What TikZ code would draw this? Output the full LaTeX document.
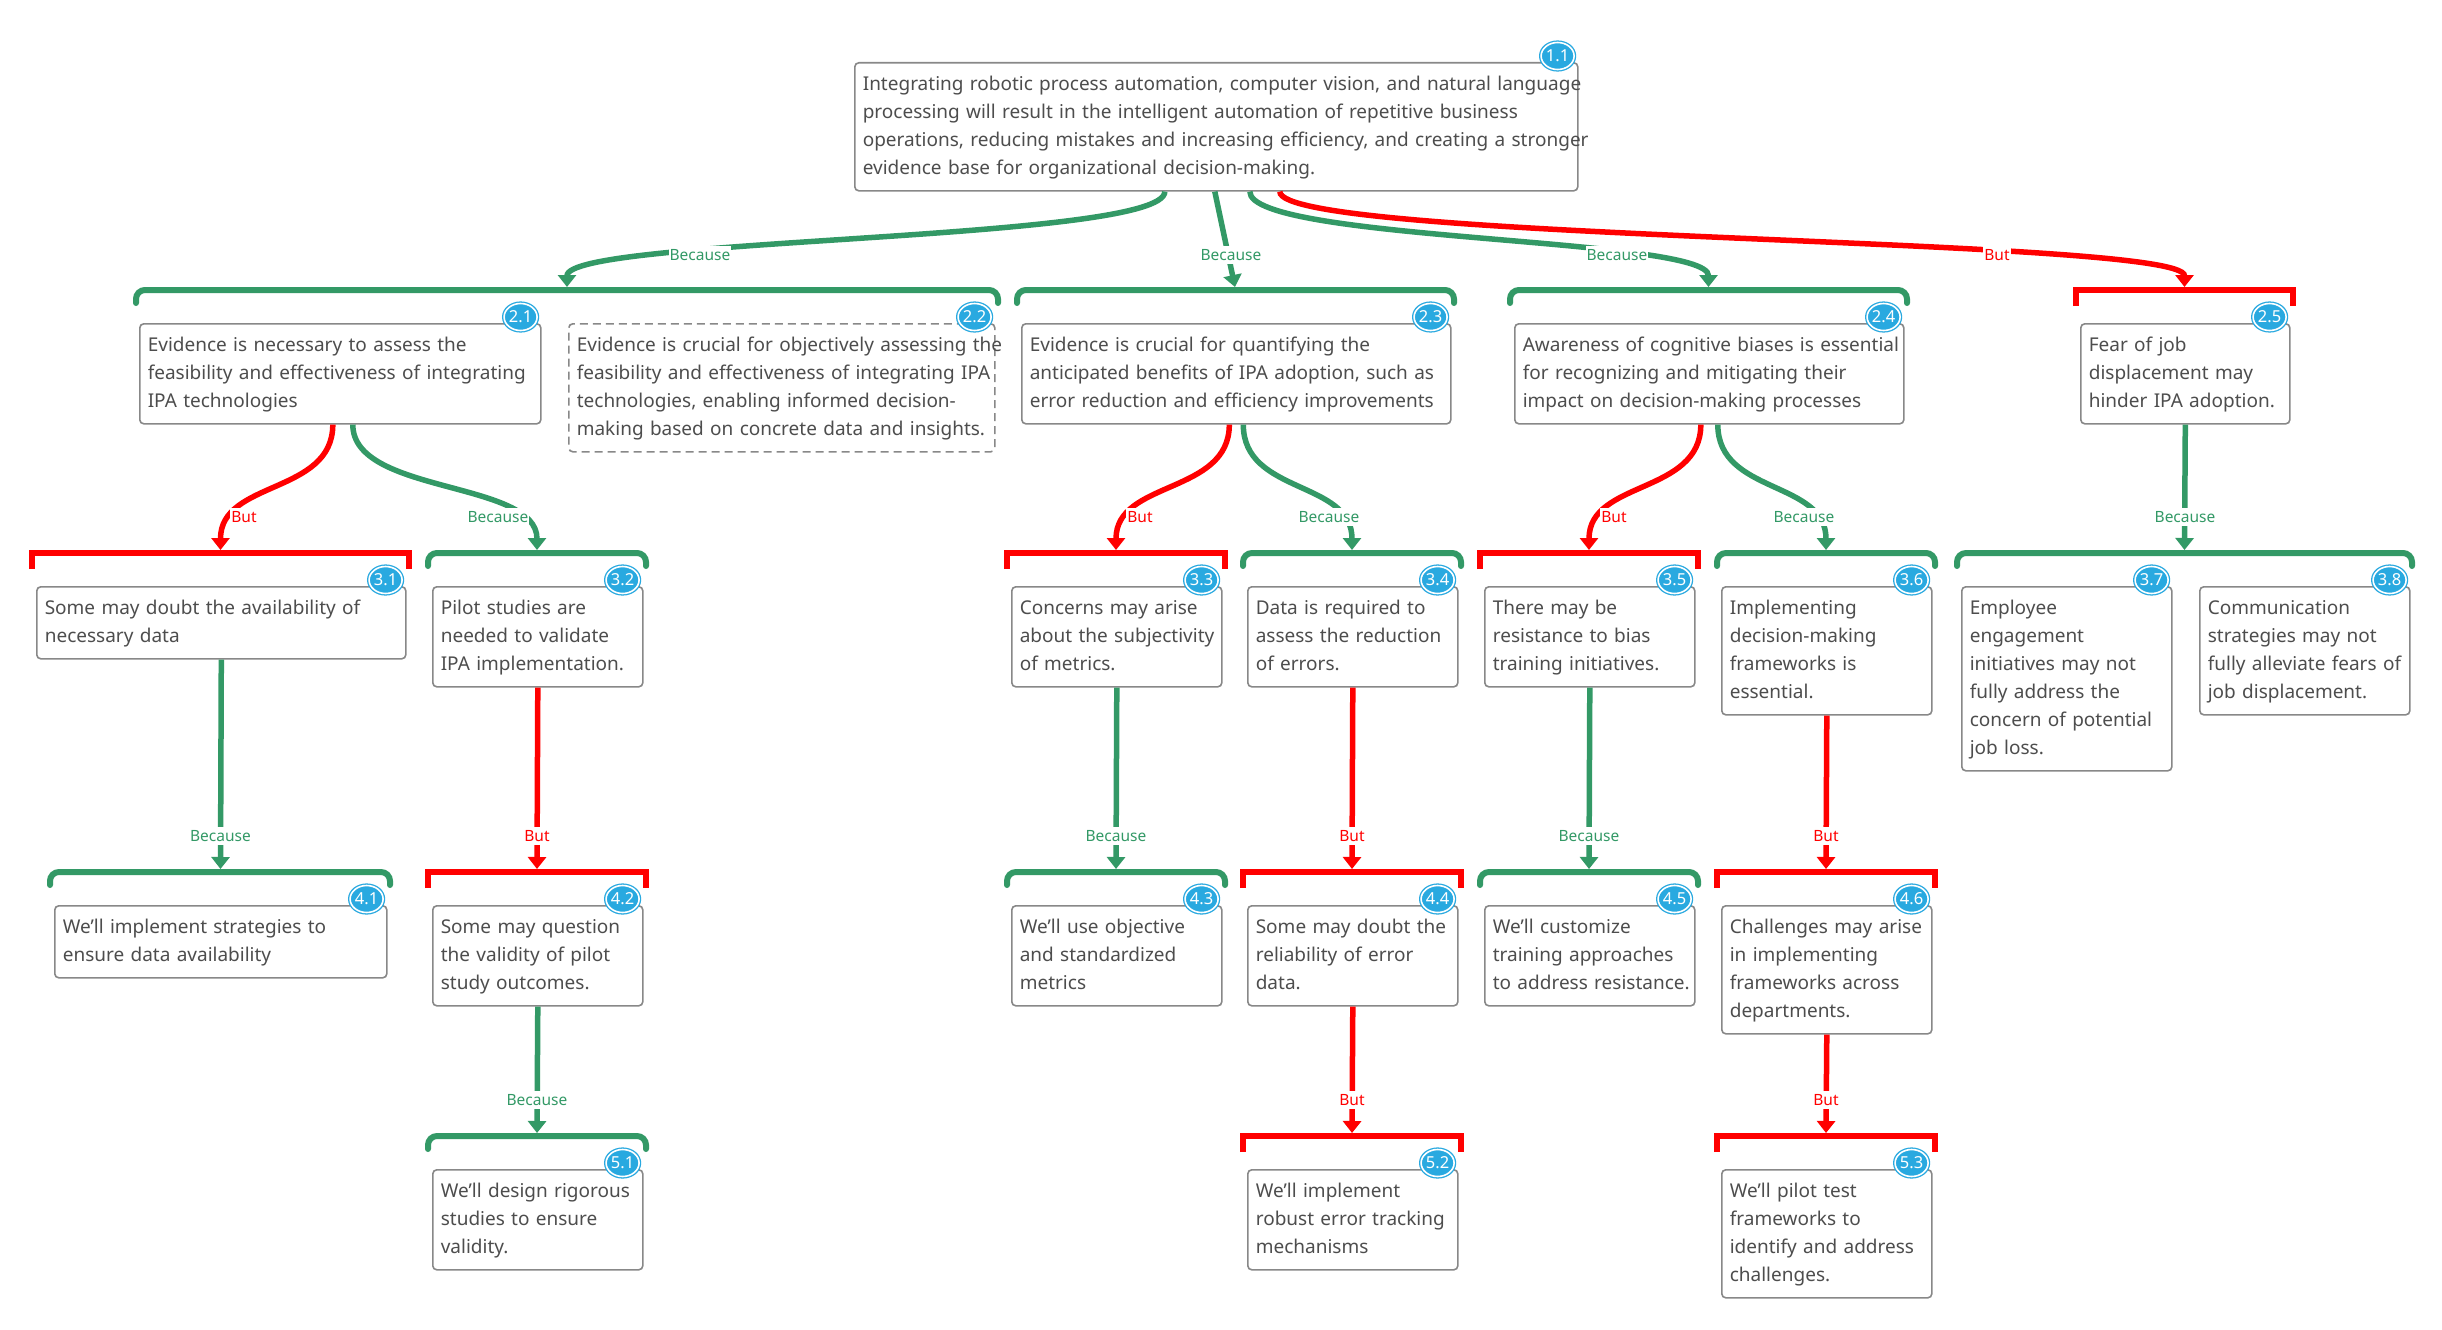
\documentclass[tikz,border=0pt]{standalone}
\usepackage{fontspec}
\setmainfont{Noto Sans}
\usetikzlibrary{arrows.meta,shapes.geometric,calc}
\definecolor{cgreen}{HTML}{339966}
\definecolor{cred}{HTML}{FF0000}
\definecolor{cblue}{HTML}{29A9E0}
\definecolor{ctext}{HTML}{4D4D4D}
\definecolor{cborder}{HTML}{888888}
\newcommand\boxlines[1]{\begin{tabular}{@{}l@{}}#1\end{tabular}}
\tikzset{
  argbox/.style={draw=cborder, line width=1.6pt, rounded corners=4pt, fill=white,
    inner xsep=8pt, inner ysep=8pt, anchor=north west, align=left, text=ctext,
    font=\fontsize{19}{28}\selectfont},
  dashbox/.style={argbox, dash pattern=on 8pt off 5pt},
  badge/.style={ellipse, draw=cblue, fill=cblue, double=white, double distance=1.6pt,
    line width=1.3pt, minimum width=33pt, minimum height=27pt, inner sep=0pt,
    text=white, font=\bfseries\fontsize{16.5}{16.5}\selectfont},
  gbr/.style={draw=cgreen, line width=6pt, rounded corners=9pt, line cap=round},
  rbr/.style={draw=cred, line width=6pt, line cap=butt, line join=miter},
  gcon/.style={draw=cgreen, line width=5.5pt, -{Triangle[width=18pt,length=12pt]}},
  rcon/.style={draw=cred, line width=5.5pt, -{Triangle[width=18pt,length=12pt]}},
  glab/.style={fill=white, text=cgreen, inner xsep=1pt, inner ysep=3pt, font=\fontsize{15.5}{16}\selectfont},
  rlab/.style={glab, text=cred},
}
\newcommand\gbracket[3]{\draw[gbr] (#1,#3+13) -- (#1,#3) -- (#2,#3) -- (#2,#3+13);}
\newcommand\rbracket[3]{\draw[rbr] (#1,#3+16) -- (#1,#3) -- (#2,#3) -- (#2,#3+16);}
\begin{document}
\begin{tikzpicture}[x=1pt,y=-1pt]
\useasboundingbox (0,0) rectangle (2442,1330);
\fill[white] (0,0) rectangle (2442,1330);

% ---------- brackets ----------
\gbracket{136}{998}{290}
\gbracket{1017}{1454}{290}
\gbracket{1510}{1907}{290}
\rbracket{2076}{2293}{290}
\rbracket{32}{409}{553}
\gbracket{428}{646}{553}
\rbracket{1007}{1225}{553}
\gbracket{1243}{1461}{553}
\rbracket{1480}{1698}{553}
\gbracket{1717}{1935}{553}
\gbracket{1957}{2412}{553}
\gbracket{50}{390}{872}
\rbracket{428}{646}{872}
\gbracket{1007}{1225}{872}
\rbracket{1243}{1461}{872}
\gbracket{1480}{1698}{872}
\rbracket{1717}{1935}{872}
\gbracket{428}{646}{1136}
\rbracket{1243}{1461}{1136}
\rbracket{1717}{1935}{1136}

% ---------- bracket targets ----------
\coordinate (kA) at (567,287);
\coordinate (kB) at (1235,287);
\coordinate (kC) at (1708.5,287);
\coordinate (kD) at (2184.5,287);
\coordinate (k31) at (220.5,550);
\coordinate (k32) at (537,550);
\coordinate (k33) at (1116,550);
\coordinate (k34) at (1352,550);
\coordinate (k35) at (1589,550);
\coordinate (k36) at (1826,550);
\coordinate (k37) at (2184.5,550);
\coordinate (k41) at (220.5,869);
\coordinate (k42) at (537,869);
\coordinate (k43) at (1116,869);
\coordinate (k44) at (1352,869);
\coordinate (k45) at (1589,869);
\coordinate (k46) at (1826,869);
\coordinate (k51) at (537,1133);
\coordinate (k52) at (1352,1133);
\coordinate (k53) at (1826,1133);

% ---------- boxes ----------
\node[argbox, text width=707pt] (b11) at (854,62) {\boxlines{Integrating robotic process automation, computer vision, and natural language\\processing will result in the intelligent automation of repetitive business\\operations, reducing mistakes and increasing efficiency, and creating a stronger\\evidence base for organizational decision-making.}};
\node[argbox, text width=385pt] (b21) at (139,323) {\boxlines{Evidence is necessary to assess the\\feasibility and effectiveness of integrating\\IPA technologies}};
\node[dashbox, text width=410pt] (b22) at (568,323) {\boxlines{Evidence is crucial for objectively assessing the\\feasibility and effectiveness of integrating IPA\\technologies, enabling informed decision-\\making based on concrete data and insights.}};
\node[argbox, text width=413pt] (b23) at (1021,323) {\boxlines{Evidence is crucial for quantifying the\\anticipated benefits of IPA adoption, such as\\error reduction and efficiency improvements}};
\node[argbox, text width=373pt] (b24) at (1514,323) {\boxlines{Awareness of cognitive biases is essential\\for recognizing and mitigating their\\impact on decision-making processes}};
\node[argbox, text width=193pt] (b25) at (2080,323) {\boxlines{Fear of job\\displacement may\\hinder IPA adoption.}};
\node[argbox, text width=353pt] (b31) at (36,586) {\boxlines{Some may doubt the availability of\\necessary data}};
\node[argbox, text width=194pt] (b32) at (432,586) {\boxlines{Pilot studies are\\needed to validate\\IPA implementation.}};
\node[argbox, text width=194pt] (b33) at (1011,586) {\boxlines{Concerns may arise\\about the subjectivity\\of metrics.}};
\node[argbox, text width=194pt] (b34) at (1247,586) {\boxlines{Data is required to\\assess the reduction\\of errors.}};
\node[argbox, text width=194pt] (b35) at (1484,586) {\boxlines{There may be\\resistance to bias\\training initiatives.}};
\node[argbox, text width=194pt] (b36) at (1721,586) {\boxlines{Implementing\\decision-making\\frameworks is\\essential.}};
\node[argbox, text width=194pt] (b37) at (1961,586) {\boxlines{Employee\\engagement\\initiatives may not\\fully address the\\concern of potential\\job loss.}};
\node[argbox, text width=194pt] (b38) at (2199,586) {\boxlines{Communication\\strategies may not\\fully alleviate fears of\\job displacement.}};
\node[argbox, text width=316pt] (b41) at (54,905) {\boxlines{We'll implement strategies to\\ensure data availability}};
\node[argbox, text width=194pt] (b42) at (432,905) {\boxlines{Some may question\\the validity of pilot\\study outcomes.}};
\node[argbox, text width=194pt] (b43) at (1011,905) {\boxlines{We'll use objective\\and standardized\\metrics}};
\node[argbox, text width=194pt] (b44) at (1247,905) {\boxlines{Some may doubt the\\reliability of error\\data.}};
\node[argbox, text width=194pt] (b45) at (1484,905) {\boxlines{We'll customize\\training approaches\\to address resistance.}};
\node[argbox, text width=194pt] (b46) at (1721,905) {\boxlines{Challenges may arise\\in implementing\\frameworks across\\departments.}};
\node[argbox, text width=194pt] (b51) at (432,1169) {\boxlines{We'll design rigorous\\studies to ensure\\validity.}};
\node[argbox, text width=194pt] (b52) at (1247,1169) {\boxlines{We'll implement\\robust error tracking\\mechanisms}};
\node[argbox, text width=194pt] (b53) at (1721,1169) {\boxlines{We'll pilot test\\frameworks to\\identify and address\\challenges.}};

% ---------- badges ----------
\foreach \b/\t in {b11/1.1,b21/2.1,b22/2.2,b23/2.3,b24/2.4,b25/2.5,b31/3.1,b32/3.2,b33/3.3,b34/3.4,b35/3.5,b36/3.6,b37/3.7,b38/3.8,b41/4.1,b42/4.2,b43/4.3,b44/4.4,b45/4.5,b46/4.6,b51/5.1,b52/5.2,b53/5.3}
  \node[badge] (g\b) at ($(\b.north east)+(-21,-6)$) {\t};

% ---------- connectors ----------
\draw[gcon] ($(b11.south)+(-51.5,0)$) .. controls +(0,50) and +(0,-50) .. (kA);
\draw[gcon] ($(b11.south)+(-1.5,0)$) -- (kB);
\draw[gcon] ($(b11.south)+(33.5,0)$) .. controls +(0,50) and +(0,-50) .. (kC);
\draw[rcon] ($(b11.south)+(63.5,0)$) .. controls +(0,50) and +(0,-50) .. (kD);

\draw[rcon] ($(b21.south)+(-7.5,0)$) .. controls +(0,70) and +(0,-70) .. (k31);
\draw[gcon] ($(b21.south)+(12.5,0)$) .. controls +(0,70) and +(0,-70) .. (k32);
\draw[rcon] ($(b23.south)+(-7,0)$) .. controls +(0,70) and +(0,-70) .. (k33);
\draw[gcon] ($(b23.south)+(7,0)$) .. controls +(0,70) and +(0,-70) .. (k34);
\draw[rcon] ($(b24.south)+(-8.5,0)$) .. controls +(0,70) and +(0,-70) .. (k35);
\draw[gcon] ($(b24.south)+(8.5,0)$) .. controls +(0,70) and +(0,-70) .. (k36);
\draw[gcon] (b25.south) -- (k37);

\draw[gcon] (b31.south) -- (k41);
\draw[rcon] (b32.south) -- (k42);
\draw[gcon] (b33.south) -- (k43);
\draw[rcon] (b34.south) -- (k44);
\draw[gcon] (b35.south) -- (k45);
\draw[rcon] (b36.south) -- (k46);
\draw[gcon] (b42.south) -- (k51);
\draw[rcon] (b44.south) -- (k52);
\draw[rcon] (b46.south) -- (k53);

% ---------- labels ----------
\node[glab] (l1) at (700,255) {Because};
\node[glab] (l2) at (1231,255) {Because};
\node[glab] (l3) at (1617,255) {Because};
\node[rlab] (l4) at (1997,255) {But};
\node[rlab] (l5) at (244,517) {But};
\node[glab] (l6) at (498,517) {Because};
\node[rlab] (l7) at (1140,517) {But};
\node[glab] (l8) at (1329,517) {Because};
\node[rlab] (l9) at (1614,517) {But};
\node[glab] (l10) at (1804,517) {Because};
\node[glab] (l11) at (2185,517) {Because};
\node[glab] (l12) at (220.5,836) {Because};
\node[rlab] (l13) at (537,836) {But};
\node[glab] (l14) at (1116,836) {Because};
\node[rlab] (l15) at (1352,836) {But};
\node[glab] (l16) at (1589,836) {Because};
\node[rlab] (l17) at (1826,836) {But};
\node[glab] (l18) at (537,1100) {Because};
\node[rlab] (l19) at (1352,1100) {But};
\node[rlab] (l20) at (1826,1100) {But};
\end{tikzpicture}
\end{document}
